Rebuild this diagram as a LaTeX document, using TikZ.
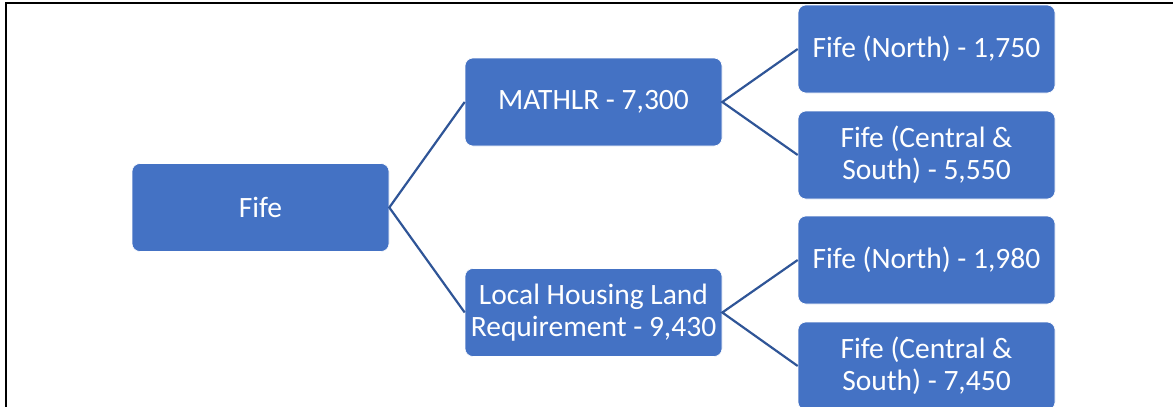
\documentclass[tikz,border=0pt]{standalone}
\usepackage{fontspec}
\setmainfont{Carlito}
\definecolor{boxblue}{HTML}{4472C4}
\definecolor{lineblue}{HTML}{2F5597}
\begin{document}
\begin{tikzpicture}[x=1pt,y=-1pt,
  box/.style={fill=boxblue, draw=white, line width=0.6pt, rounded corners=8pt,
    minimum width=257pt, minimum height=88pt, inner sep=2pt, text=white,
    align=center, font=\fontsize{29.5}{31.5}\selectfont},
  conn/.style={draw=lineblue, line width=2.2pt}]
\useasboundingbox (0,0) rectangle (1173,407);
\clip (0,0) rectangle (1173,407);
\draw[black, line width=2pt] (6,407) -- (6,3) -- (1173,3);
\node[box] (fife) at (260.5,207.5) {Fife};
\node[box] (math) at (593.5,102) {MATHLR - 7,300};
\node[box] (lhlr) at (593.5,312.5) {Local Housing Land\\Requirement - 9,430};
\node[box] (n1) at (926.5,49) {Fife (North) - 1,750};
\node[box] (cs1) at (926.5,155) {Fife (Central \&\\South) - 5,550};
\node[box] (n2) at (926.5,260) {Fife (North) - 1,980};
\node[box] (cs2) at (926.5,366) {Fife (Central \&\\South) - 7,450};
\draw[conn] (math.west) -- (fife.east) -- (lhlr.west);
\draw[conn] (n1.west) -- (math.east) -- (cs1.west);
\draw[conn] (n2.west) -- (lhlr.east) -- (cs2.west);
\end{tikzpicture}
\end{document}
